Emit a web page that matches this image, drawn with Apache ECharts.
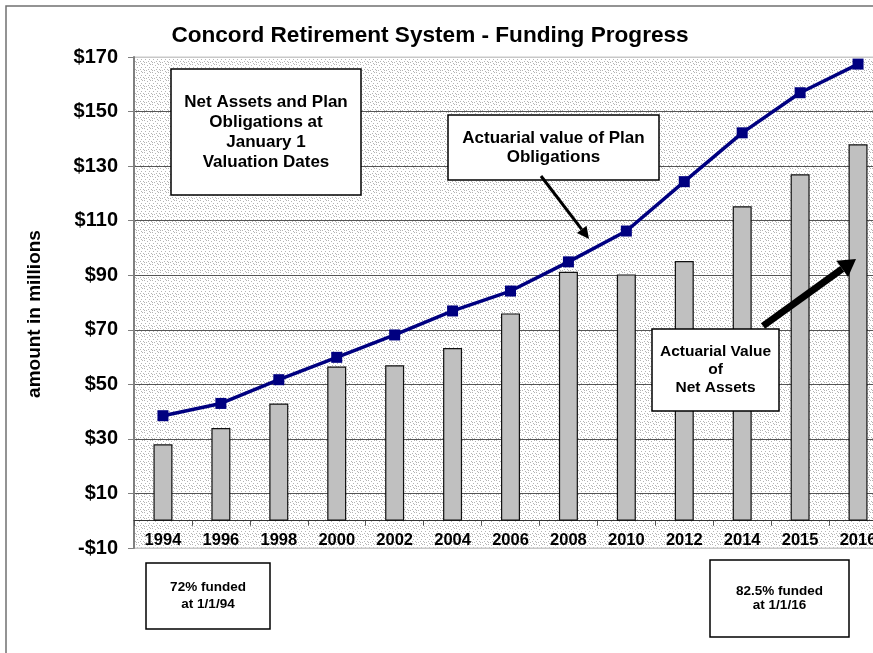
<!DOCTYPE html>
<html>
<head>
<meta charset="utf-8">
<script src="https://cdn.jsdelivr.net/npm/echarts@6/dist/echarts.min.js"></script>
<style>
html,body{margin:0;padding:0;background:#fff;}
#chart{width:873px;height:653px;}
</style>
</head>
<body>
<div id="chart"></div>
<script>
// ---- data ----
const years = ['1994','1996','1998','2000','2002','2004','2006','2008','2010','2012','2014','2015','2016'];
const netAssets = [28, 34, 43, 56.5, 57, 63.3, 76, 91.3, 90.3, 95.2, 115.3, 127, 138];
const planObligations = [38.5, 43, 51.7, 59.9, 68.1, 76.9, 84.2, 94.9, 106.2, 124.3, 142.2, 156.9, 167.4];
const yMin = -10, yMax = 170, yStep = 20;

const FONT = '"Liberation Sans", Arial, sans-serif';
const GRID_TOP = 57, GRID_H = 491;

// stipple pattern for plot background
const pc = document.createElement('canvas');
pc.width = 8; pc.height = 8;
const pctx = pc.getContext('2d');
pctx.fillStyle = '#ffffff'; pctx.fillRect(0,0,8,8);
pctx.fillStyle = '#b4b4b4';
[[0,0],[3,1],[6,0],[1,3],[5,3],[7,5],[2,6],[4,5],[0,6],[5,7]].forEach(p => pctx.fillRect(p[0],p[1],1,1));

function arrow(x1, y1, x2, y2, lw, headLen, headHalf) {
  const dx = x2 - x1, dy = y2 - y1, L = Math.sqrt(dx*dx + dy*dy);
  const ux = dx / L, uy = dy / L, px = -uy, py = ux;
  const bx = x2 - ux * headLen, by = y2 - uy * headLen;
  return [
    { type: 'line', z: 100, shape: { x1: x1, y1: y1, x2: bx, y2: by }, style: { stroke: '#000', lineWidth: lw } },
    { type: 'polygon', z: 100, shape: { points: [[x2, y2], [bx + px*headHalf, by + py*headHalf], [bx - px*headHalf, by - py*headHalf]] }, style: { fill: '#000' } }
  ];
}
function box(x, y, w, h, text, size, lh) {
  return [
    { type: 'rect', z: 100, shape: { x: x, y: y, width: w, height: h }, style: { fill: '#fff', stroke: '#000', lineWidth: 1.5 } },
    { type: 'text', z: 101, x: x + w/2, y: y + h/2, style: { text: text, font: 'bold ' + size + 'px ' + FONT, fill: '#000', align: 'center', verticalAlign: 'middle', lineHeight: lh } }
  ];
}

const splitColors = [];
for (let v = yMin; v <= yMax; v += yStep) splitColors.push((v === yMin || v === yMax) ? '#c8c8c8' : '#555');

// x axis sits at value 0: offset it up from the grid bottom by the pixel span of (0 - yMin)
const zeroOffset = -GRID_H * (0 - yMin) / (yMax - yMin);

const chart = echarts.init(document.getElementById('chart'), null, { renderer: 'canvas' });
chart.setOption({
  animation: false,
  backgroundColor: '#fff',
  title: {
    text: 'Concord Retirement System - Funding Progress',
    left: 425, top: 19, textAlign: 'center',
    textStyle: { fontFamily: FONT, fontWeight: 'bold', fontSize: 22.6, color: '#000' }
  },
  grid: {
    left: 134, top: GRID_TOP, width: 753, height: GRID_H,
    containLabel: false,
    outerBoundsMode: 'none',
    show: true,
    backgroundColor: { type: 'pattern', image: pc, repeat: 'repeat' },
    borderColor: '#c8c8c8', borderWidth: 1
  },
  xAxis: {
    type: 'category',
    data: years,
    boundaryGap: true,
    position: 'bottom',
    offset: zeroOffset,
    axisLine: { onZero: false, lineStyle: { color: '#333', width: 1 } },
    axisTick: { show: true, interval: 0, length: 5, lineStyle: { color: '#555' } },
    axisLabel: { interval: 0, margin: 11, fontFamily: FONT, fontWeight: 'bold', fontSize: 16.5, color: '#000' },
    splitLine: { show: false }
  },
  yAxis: {
    type: 'value',
    min: yMin, max: yMax, interval: yStep,
    axisLine: { show: true, lineStyle: { color: '#808080', width: 2 } },
    axisTick: { show: true, length: 6, lineStyle: { color: '#808080' } },
    axisLabel: {
      margin: 16, fontFamily: FONT, fontWeight: 'bold', fontSize: 20, color: '#000',
      formatter: v => (v < 0 ? '-$' + Math.abs(v) : '$' + v)
    },
    splitLine: { show: true, lineStyle: { color: splitColors, width: 1 } }
  },
  series: [
    {
      name: 'Actuarial Value of Net Assets',
      type: 'bar',
      data: netAssets,
      barWidth: 19,
      itemStyle: { color: '#c0c0c0', borderColor: '#111', borderWidth: 1.2 },
      z: 2
    },
    {
      name: 'Actuarial value of Plan Obligations',
      type: 'line',
      data: planObligations,
      symbol: 'rect', symbolSize: 11,
      lineStyle: { color: '#000080', width: 3.5 },
      itemStyle: { color: '#000080' },
      z: 3
    }
  ],
  graphic: [
    { type: 'rect', z: 0, shape: { x: 6, y: 6, width: 900, height: 700 }, style: { fill: null, stroke: '#707070', lineWidth: 1.5 } },
    { type: 'text', z: 100, x: 35, y: 314, rotation: Math.PI/2,
      style: { text: 'amount in millions', font: 'bold 19px ' + FONT, fill: '#000', align: 'center', verticalAlign: 'middle' } }
  ]
    .concat(box(171, 69, 190, 126, 'Net Assets and Plan\nObligations at\nJanuary 1\nValuation Dates', 17, 20))
    .concat(box(448, 115, 211, 65, 'Actuarial value of Plan\nObligations', 17, 19))
    .concat(box(652, 329, 127, 82, 'Actuarial Value\nof\nNet Assets', 15.5, 18))
    .concat(box(146, 563, 124, 66, '72% funded\nat 1/1/94', 13.5, 17))
    .concat(box(710, 560, 139, 77, '82.5% funded\nat 1/1/16', 13.5, 14))
    .concat(arrow(541, 176, 589, 239, 3, 12, 6))
    .concat(arrow(763, 326, 856, 259, 7, 17, 10))
});
</script>
</body>
</html>
